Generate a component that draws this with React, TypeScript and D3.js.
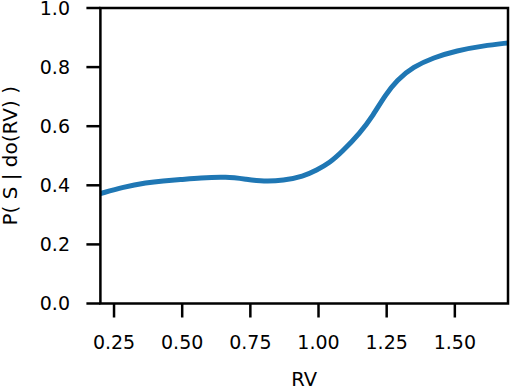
import React from "react";
import * as d3 from "d3";

const rvValues = [0.2, 0.284, 0.37, 0.43, 0.492, 0.565, 0.663, 0.737, 0.798, 0.871, 0.944, 0.993, 1.041, 1.085, 1.152, 1.201, 1.244, 1.287, 1.348, 1.421, 1.507, 1.604, 1.695];
const probValues = [0.372, 0.394, 0.409, 0.415, 0.419, 0.425, 0.429, 0.42, 0.413, 0.416, 0.43, 0.451, 0.476, 0.512, 0.576, 0.638, 0.704, 0.756, 0.801, 0.832, 0.856, 0.872, 0.882];
const xTicks = [0.25, 0.5, 0.75, 1.0, 1.25, 1.5];
const yTicks = [0.0, 0.2, 0.4, 0.6, 0.8, 1.0];

const W = 510;
const H = 390;
const left = 100.4;
const right = 508;
const top = 8;
const bottom = 303.5;

export default function App() {
  const x = d3.scaleLinear().domain([0.2, 1.695]).range([left, right]);
  const y = d3.scaleLinear().domain([0, 1]).range([bottom, top]);
  const pts = rvValues.map((v, i) => [v, probValues[i]] as [number, number]);
  const line = d3
    .line<[number, number]>()
    .x((d) => x(d[0]))
    .y((d) => y(d[1]))
    .curve(d3.curveBasis);
  const font = "DejaVu Sans, sans-serif";
  const tickLen = 14;
  const sw = 2.5;
  return (
    <svg
      width={W}
      height={H}
      style={{ position: "absolute", left: 0, top: 0, background: "#fff" }}
    >
      <defs>
        <clipPath id="plotclip">
          <rect x={left} y={top} width={right - left} height={bottom - top} />
        </clipPath>
      </defs>
      <path
        d={line(pts) || ""}
        fill="none"
        stroke="#1f77b4"
        strokeWidth={5}
        strokeLinecap="butt"
        clipPath="url(#plotclip)"
      />
      <rect
        x={left}
        y={top}
        width={right - left}
        height={bottom - top}
        fill="none"
        stroke="#000"
        strokeWidth={sw}
      />
      {xTicks.map((t) => (
        <g key={"x" + t}>
          <line x1={x(t)} x2={x(t)} y1={bottom} y2={bottom + tickLen} stroke="#000" strokeWidth={sw} />
          <text x={x(t)} y={349} textAnchor="middle" fontFamily={font} fontSize={19} fill="#000">
            {t.toFixed(2)}
          </text>
        </g>
      ))}
      {yTicks.map((t) => (
        <g key={"y" + t}>
          <line x1={left - tickLen} x2={left} y1={y(t)} y2={y(t)} stroke="#000" strokeWidth={sw} />
          <text x={70} y={y(t)} dy="0.35em" textAnchor="end" fontFamily={font} fontSize={19} fill="#000">
            {t.toFixed(1)}
          </text>
        </g>
      ))}
      <text x={(left + right) / 2} y={386} textAnchor="middle" fontFamily={font} fontSize={19.5} fill="#000">
        RV
      </text>
      <text
        transform={`translate(17, ${(top + bottom) / 2}) rotate(-90)`}
        textAnchor="middle"
        fontFamily={font}
        fontSize={20}
        fill="#000"
      >
        P( S | do(RV) )
      </text>
    </svg>
  );
}
